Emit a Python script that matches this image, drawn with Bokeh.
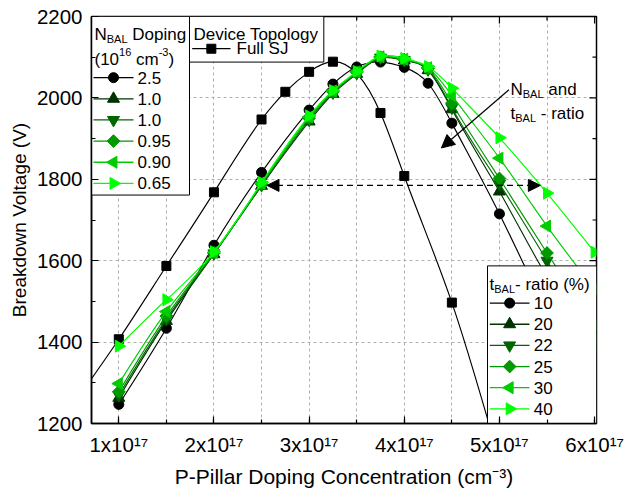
import numpy as np
from bokeh.plotting import figure
from bokeh.models import Range1d, FixedTicker, ColumnDataSource, Label, Arrow, NormalHead
from bokeh.embed import file_html
from bokeh.resources import INLINE

# ---------------- data (P-pillar doping in units of 1e17 cm^-3, breakdown voltage in V)
conc_sj = [0.5, 1.0, 1.5, 2.0, 2.5, 2.75, 3.0, 3.25, 3.75, 4.0, 4.5, 5.0]
bv_sj = [1240, 1407, 1587, 1768, 1947, 2015, 2064, 2089, 1963, 1808, 1497, 1110]

conc_bal = [1.0, 1.5, 2.0, 2.5, 3.0, 3.25, 3.5, 3.75, 4.0, 4.25, 4.5, 5.0, 5.5, 6.0]
bv_t10 = [1247, 1434, 1638, 1817, 1970, 2034, 2076, 2088, 2075, 2036, 1938, 1715, 1470, 1230]
bv_t20 = [1263, 1452, 1616, 1784, 1942, 2010, 2059, 2098, 2092, 2068, 1972, 1770, 1560, 1385]
bv_t22 = [1270, 1457, 1618, 1786, 1946, 2013, 2061, 2099, 2093, 2070, 1976, 1789, 1600, 1410]
bv_t25 = [1278, 1464, 1619, 1788, 1950, 2015, 2063, 2100, 2094, 2072, 1987, 1802, 1619, 1440]
bv_t30 = [1298, 1475, 1620, 1790, 1953, 2017, 2064, 2101, 2095, 2074, 2006, 1852, 1685, 1530]
bv_t40 = [1390, 1504, 1622, 1792, 1956, 2018, 2065, 2103, 2097, 2077, 2024, 1902, 1766, 1621]

ratio_labels = ["10", "20", "22", "25", "30", "40"]
nbal_labels = ["2.5", "1.0", "1.0", "0.95", "0.90", "0.65"]
sj_label = "Full SJ"

x_ticks = [1, 2, 3, 4, 5, 6]
x_minor_ticks = [1.5, 2.5, 3.5, 4.5, 5.5]
x_tick_labels = ["1x10\u00b9\u2077", "2x10\u00b9\u2077", "3x10\u00b9\u2077",
                 "4x10\u00b9\u2077", "5x10\u00b9\u2077", "6x10\u00b9\u2077"]
y_ticks = [1200, 1400, 1600, 1800, 2000, 2200]
y_minor_ticks = [1300, 1500, 1700, 1900, 2100]

# annotation arrow anchors (data units)
dash_arrow_x = [2.557, 5.43]
dash_arrow_y = 1785
trend_arrow = (5.10, 2020, 4.39, 1877)

# ---------------- styles
bal_series = [bv_t10, bv_t20, bv_t22, bv_t25, bv_t30, bv_t40]
colors = ["#000000", "#003300", "#006600", "#009900", "#00CC00", "#00FF00"]
markers = ["circle", "triangle", "inverted_triangle", "square", "triangle", "triangle"]
angles = [0, 0, 0, np.pi / 4, np.pi / 2, -np.pi / 2]
sizes = [10, 12, 12, 9, 12, 12]

FONT = "Liberation Sans"
W, H = 626, 490
FL, FR, FT, FB = 91, 596, 16, 424
X0, X1, Y0, Y1 = 0.713, 6.02, 1200, 2200

p = figure(width=W, height=H, output_backend="svg", toolbar_location=None,
           x_range=Range1d(X0, X1), y_range=Range1d(Y0, Y1),
           min_border_left=FL, min_border_right=W - FR, min_border_top=FT,
           min_border_bottom=H - FB)
p.extra_x_ranges = {"px": Range1d(FL, FR)}
p.extra_y_ranges = {"px": Range1d(FB, FT)}
p.background_fill_color = "white"
p.border_fill_color = "white"
p.outline_line_color = "black"
p.outline_line_width = 1.5

xt = FixedTicker(ticks=x_ticks, minor_ticks=x_ticks + x_minor_ticks)
yt = FixedTicker(ticks=y_ticks, minor_ticks=y_ticks + y_minor_ticks)

xa = p.xaxis[0]
ya = p.yaxis[0]
xa.ticker = xt
ya.ticker = yt
xa.major_label_overrides = {t: s for t, s in zip(x_ticks, x_tick_labels)}
xa.axis_label = "P-Pillar Doping Concentration (cm\u207b\u00b3)"
ya.axis_label = "Breakdown Voltage (V)"

for ax in [xa, ya]:
    ax.axis_line_color = "black"
    ax.axis_line_width = 1.5
    ax.major_tick_in = 7
    ax.major_tick_out = 0
    ax.minor_tick_in = 4
    ax.minor_tick_out = 0
    ax.major_tick_line_color = "black"
    ax.minor_tick_line_color = "black"
    ax.major_tick_line_width = 1.2
    ax.minor_tick_line_width = 1.2
    ax.major_label_text_font = FONT
    ax.major_label_text_font_size = "20.5px"
    ax.major_label_text_color = "black"
    ax.axis_label_text_font = FONT
    ax.axis_label_text_font_style = "normal"
    ax.axis_label_text_color = "black"
xa.major_label_standoff = 9
ya.major_label_standoff = 9
xa.axis_label_text_font_size = "21px"
ya.axis_label_text_font_size = "19px"
xa.axis_label_standoff = 6
ya.axis_label_standoff = 4

p.xgrid.ticker = FixedTicker(ticks=sorted(x_ticks[:-1] + x_minor_ticks))
p.ygrid.ticker = FixedTicker(ticks=y_ticks[1:-1])
for g in [p.xgrid, p.ygrid]:
    g.grid_line_color = "#b0b0b0"
    g.grid_line_dash = "3 3"
    g.grid_line_width = 1

# inward ticks on the top and right frame edges (half of each dash is clipped)
p.scatter(x=[X1] * len(y_ticks), y=y_ticks, marker="dash", size=14,
          line_color="black", line_width=1.2)
p.scatter(x=[X1] * len(y_minor_ticks), y=y_minor_ticks, marker="dash", size=8,
          line_color="black", line_width=1.2)
p.scatter(x=x_ticks, y=[Y1] * len(x_ticks), marker="dash", angle=np.pi / 2, size=14,
          line_color="black", line_width=1.2)
p.scatter(x=x_minor_ticks, y=[Y1] * len(x_minor_ticks), marker="dash", angle=np.pi / 2,
          size=8, line_color="black", line_width=1.2)


def spline_segments(xs, ys):
    x = np.asarray(xs, float)
    y = np.asarray(ys, float)
    n = len(x)
    h = np.diff(x)
    A = np.zeros((n, n))
    b = np.zeros(n)
    A[0, 0] = 1
    A[-1, -1] = 1
    for i in range(1, n - 1):
        A[i, i - 1] = h[i - 1]
        A[i, i] = 2 * (h[i - 1] + h[i])
        A[i, i + 1] = h[i]
        b[i] = 6 * ((y[i + 1] - y[i]) / h[i] - (y[i] - y[i - 1]) / h[i - 1])
    M = np.linalg.solve(A, b)
    s = np.diff(y) / h
    d0 = s - h * (2 * M[:-1] + M[1:]) / 6
    d1 = s + h * (M[:-1] + 2 * M[1:]) / 6
    return dict(x0=x[:-1], y0=y[:-1], x1=x[1:], y1=y[1:],
                cx0=x[:-1] + h / 3, cy0=y[:-1] + d0 * h / 3,
                cx1=x[1:] - h / 3, cy1=y[1:] - d1 * h / 3)


def draw_series(xs, ys, color, marker, angle, size):
    seg = ColumnDataSource(spline_segments(xs, ys))
    p.bezier(x0="x0", y0="y0", x1="x1", y1="y1", cx0="cx0", cy0="cy0",
             cx1="cx1", cy1="cy1", source=seg, line_color=color, line_width=1.15)
    p.scatter(xs, ys, marker=marker, angle=angle, size=size,
              fill_color=color, line_color=color)


draw_series(conc_sj, bv_sj, "#000000", "square", 0, 9)
for ys, c, m, a, s in zip(bal_series, colors, markers, angles, sizes):
    draw_series(conc_bal, ys, c, m, a, s)

# ---------------- legend boxes (pixel-space layout)
p.quad(left=[FL, 189, 487], right=[189, 323.3, FR], top=[FT, FT, 266],
       bottom=[195, 61.7, FB], x_range_name="px", y_range_name="px",
       fill_color="white", line_color="black", line_width=1)

PITCH = 21.2


def swatch(x0, x1, yy, color, marker, angle, size):
    p.segment(x0=[x0], x1=[x1], y0=[yy], y1=[yy], x_range_name="px",
              y_range_name="px", line_color=color, line_width=1.3)
    p.scatter(x=[(x0 + x1) / 2], y=[yy], marker=marker, angle=angle, size=size,
              fill_color=color, line_color=color, x_range_name="px", y_range_name="px")


def label(x, y, text, size=17, baseline="alphabetic", align="left"):
    p.add_layout(Label(x=x, y=y, x_range_name="px", y_range_name="px", text=text,
                       text_font=FONT, text_font_size=f"{size}px", text_color="black",
                       text_baseline=baseline, text_align=align))


AW = {'N': .722, 'B': .667, 'A': .667, 'L': .556, ' ': .278, 'a': .556, 'n': .556,
      'd': .556, 't': .278, '-': .333, 'r': .333, 'i': .222, 'o': .556, 'D': .722,
      'p': .556, 'g': .556, '(': .333, ')': .333, 'c': .5, 'm': .833, '%': .889,
      'e': .556, 'v': .5, 'T': .611, 'l': .222, 'y': .5}


def tw(s, size):
    return sum(AW.get(ch, .556) for ch in s) * size


def rich(x, y, parts):
    for txt, kind in parts:
        size = 17 if kind == "n" else 11
        dy = {"n": 0, "sub": 4, "sup": -7}[kind]
        lead = len(txt) - len(txt.lstrip(" "))
        x += tw(" " * lead, size)
        txt = txt.lstrip(" ")
        label(x, y + dy, txt, size)
        x += tw(txt, size)


# legend 1: N_BAL doping
rich(94, 34.3, [("N", "n"), ("BAL", "sub"), (" Doping", "n")])
rich(94, 59, [("(10", "n"), ("16", "sup"), (" cm", "n"), ("-3", "sup"), (")", "n")])
for i, (txt, c, m, a, s) in enumerate(zip(nbal_labels, colors, markers, angles, sizes)):
    yy = 77.3 + i * PITCH
    swatch(93, 133, yy, c, m, a, s)
    label(137, yy, txt, baseline="middle")

# legend 2: device topology
label(193, 34.3, "Device Topology")
swatch(191.7, 230, 48.3, "#000000", "square", 0, 9)
label(236, 48.3, sj_label, baseline="middle")

# legend 3: t_BAL ratio
rich(489, 285, [("t", "n"), ("BAL", "sub"), ("- ratio (%)", "n")])
for i, (txt, c, m, a, s) in enumerate(zip(ratio_labels, colors, markers, angles, sizes)):
    yy = 303.3 + i * PITCH
    swatch(489.3, 529, yy, c, m, a, s)
    label(533.3, yy, txt, baseline="middle")

# annotation text
rich(510, 89.3, [("N", "n"), ("BAL", "sub"), (" and", "n")])
rich(510, 113.3, [("t", "n"), ("BAL", "sub"), (" - ratio", "n")])

# arrows
p.add_layout(Arrow(x_start=dash_arrow_x[0], x_end=dash_arrow_x[1],
                   y_start=dash_arrow_y, y_end=dash_arrow_y,
                   start=NormalHead(size=12, fill_color="black", line_color="black"),
                   end=NormalHead(size=12, fill_color="black", line_color="black"),
                   line_dash="6 4", line_width=1.2, line_color="black"))
p.add_layout(Arrow(x_start=trend_arrow[0], y_start=trend_arrow[1],
                   x_end=trend_arrow[2], y_end=trend_arrow[3],
                   end=NormalHead(size=13, fill_color="black", line_color="black"),
                   line_width=1.2, line_color="black"))

open("out.html", "w").write(file_html(p, INLINE))
